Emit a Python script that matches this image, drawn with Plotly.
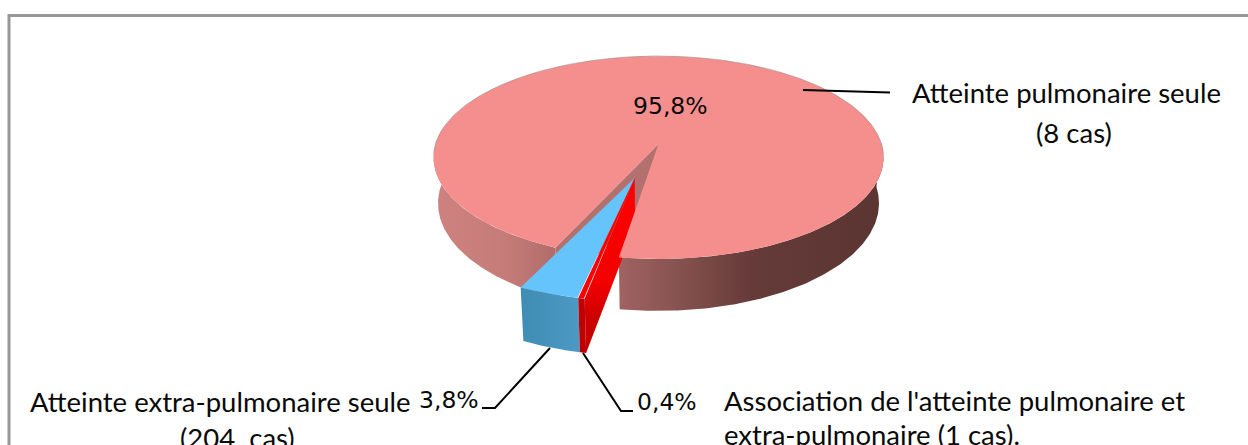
import numpy as np
import plotly.graph_objects as go

# Shares of each clinical form, in percent, in drawing order around the pie
form_names = ["Atteinte pulmonaire seule", "Association", "Atteinte extra-pulmonaire seule"]
form_shares = [95.8, 0.4, 3.8]
share_labels = ["95,8%", "0,4%", "3,8%"]

# Projection of the disc onto the page
CX, CY = 658.5, 144.0
HALF_W, HALF_H = 223.0, 99.7
PERSPECTIVE = 0.133
DEPTH = 45.0
BASE_SHRINK = 0.02
FIRST_ANGLE = 24.0       # degrees past the front of the pie, turning clockwise
EXPLODE = 0.34
OUTER_RADIUS = 0.975     # radius of the pulled-out slices
PULLED_TWIST = 1.3       # the pulled-out slices fan slightly further round


def project(u, v, z=0.0):
    """Map disc coordinates (u right, v towards the viewer) and depth z to the page."""
    u, v = np.asarray(u, float), np.asarray(v, float)
    w = 1 - PERSPECTIVE * v
    return CX + HALF_W * u / w * (1 - BASE_SHRINK * z), CY + HALF_H * v / w + DEPTH * z / w


def rim(a0, a1, radius=1.0, du=0.0, dv=0.0, n=160):
    t = np.radians(np.linspace(a0, a1, n))
    return du - radius * np.sin(t), dv + radius * np.cos(t)


def closed(x0, y0, x1, y1):
    return np.concatenate([x0, x1]), np.concatenate([y0, y1])


# Angular extent of each slice
sweeps = [s * 3.6 for s in form_shares]
main_a0 = FIRST_ANGLE
main_a1 = main_a0 + sweeps[0]
red_a0, red_a1 = main_a1 + PULLED_TWIST, main_a1 + sweeps[1] + PULLED_TWIST
blue_a0, blue_a1 = red_a1, red_a1 + sweeps[2]

# Red and blue are pulled out together along the bisector of the gap
gap_mid = np.radians((main_a1 + main_a0 + 360) / 2)
dU, dV = -EXPLODE * np.sin(gap_mid) - 0.006, EXPLODE * np.cos(gap_mid)

fig = go.Figure()


def poly(x, y, color=None, gradient=None, orient="horizontal"):
    kw = dict(x=x, y=y, mode="lines", fill="toself", line=dict(width=0),
              hoverinfo="skip", showlegend=False)
    if gradient:
        stops, x0, x1 = gradient
        kw["fillgradient"] = dict(type=orient, colorscale=stops, start=x0, stop=x1)
    else:
        kw["fillcolor"] = color
    fig.add_trace(go.Scatter(**kw))


def wall(a0, a1, du=0.0, dv=0.0, radius=1.0):
    u, v = rim(a0, a1, radius, du, dv)
    xt, yt = project(u, v, 0)
    xb, yb = project(u, v, 1)
    return closed(xt, yt, xb[::-1], yb[::-1])


def cut_face(angle, du=0.0, dv=0.0, radius=1.0):
    u, v = rim(angle, angle, radius, du, dv, n=1)
    cu, cv = np.array([du]), np.array([dv])
    x0, y0 = project(cu, cv, 0)
    x1, y1 = project(u, v, 0)
    x2, y2 = project(u, v, 1)
    x3, y3 = project(cu, cv, 1)
    return np.concatenate([x0, x1, x2, x3]), np.concatenate([y0, y1, y2, y3])


# Main slice: outer walls and the cut face on its left side
x, y = wall(main_a0, 100)
poly(x, y, gradient=([[0, "#CE827F"], [0.6, "#C57C79"], [1, "#B26D6A"]], 436, 552))
x, y = cut_face(main_a0)
poly(x, y, "#B2716E")
x, y = wall(main_a1 - 100, main_a1)
poly(x, y, gradient=([[0, "#A06463"], [0.27, "#824F4C"], [0.5, "#663B39"], [1, "#5A3532"]], 617, 882))

# Blue slice
x, y = wall(blue_a0, blue_a1, dU, dV, OUTER_RADIUS)
poly(x, y, gradient=([[0, "#3F8CB4"], [1, "#4C9AC5"]], 521, 581))
u, v = rim(blue_a0, blue_a1, OUTER_RADIUS, dU, dV)
x, y = project(np.r_[dU, u], np.r_[dV, v])
poly(x, y, "#66C4FC")

# Red slice: cut face, outer wall, then the narrow top
x, y = cut_face(red_a0, dU, dV, OUTER_RADIUS)
poly(x, y, gradient=([[0, "#FF0000"], [0.6, "#F20000"], [0.8, "#CC0000"], [1, "#C40000"]], 178, 353),
     orient="vertical")
x, y = wall(red_a0, red_a1, dU, dV, OUTER_RADIUS)
poly(x, y, "#C00000")
u, v = rim(red_a0, red_a1, OUTER_RADIUS, dU, dV)
x, y = project(np.r_[dU, u], np.r_[dV, v])
poly(x, y, "#FF0000")

# Main slice top surface
u, v = rim(main_a0, main_a1, n=500)
x, y = project(np.r_[0, u], np.r_[0, v])
poly(x, y, "#F58F8E")
u, v = rim(85, 275, n=200)
x, y = project(u, v)
fig.add_trace(go.Scatter(x=x, y=y, mode="lines", hoverinfo="skip", showlegend=False,
                         line=dict(color="rgba(150,140,140,0.55)", width=1)))

# Leader lines
leaders = [
    ([803, 890], [90, 92.5]),
    ([550, 495, 482], [348, 408, 408]),
    ([583, 621, 633], [353, 411, 411]),
]
for lx, ly in leaders:
    fig.add_trace(go.Scatter(x=lx, y=ly, mode="lines", hoverinfo="skip", showlegend=False,
                             line=dict(color="black", width=2)))


def label(text, x, y, anchor, font, size):
    fig.add_annotation(x=x, y=y, text=text, showarrow=False, xanchor=anchor, yanchor="middle",
                       font=dict(family=font, size=size, color="#0A0A0A"),
                       xref="x", yref="y")


# Percentages
label(share_labels[0], 670, 106, "center", "DejaVu Sans", 23.5)
label(share_labels[2], 449, 400, "center", "DejaVu Sans", 23.5)
label(share_labels[1], 667, 402, "center", "DejaVu Sans", 23.5)

# Category captions
label(form_names[0], 1066, 92, "center", "Lato", 27.5)
label("(8 cas)", 1074, 132, "center", "Lato", 27.5)
label(form_names[2], 220, 401, "center", "Lato", 27.5)
label("(204\u00a0\u00a0cas)", 237, 437, "center", "Lato", 27.5)
label("Association de l'atteinte pulmonaire et", 722, 400, "left", "Lato", 27.5)
label("extra-pulmonaire (1 cas).", 722, 434, "left", "Lato", 27.5)

# Chart frame: only the top and left edges fall inside the page
fig.add_shape(type="rect", x0=9, y0=15.5, x1=1300, y1=500, xref="x", yref="y",
              line=dict(color="#989898", width=3), fillcolor="rgba(0,0,0,0)", layer="below")

fig.update_layout(
    width=1248, height=445, margin=dict(l=0, r=0, t=0, b=0, pad=0),
    paper_bgcolor="white", plot_bgcolor="white", showlegend=False,
    xaxis=dict(range=[0, 1248], visible=False, fixedrange=True),
    yaxis=dict(range=[445, 0], visible=False, fixedrange=True),
)
fig.write_html("out.html", config={"displayModeBar": False})
